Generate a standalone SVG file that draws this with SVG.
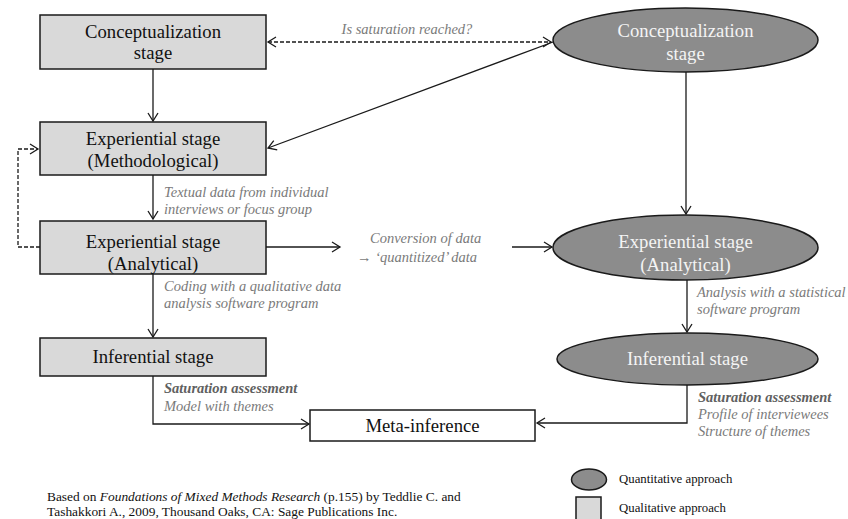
<svg xmlns="http://www.w3.org/2000/svg" width="848" height="519" viewBox="0 0 848 519" font-family="'Liberation Serif', 'Times New Roman', 'DejaVu Serif', serif">
<defs>
<marker id="ah" markerWidth="12" markerHeight="12" refX="9" refY="6" orient="auto-start-reverse" markerUnits="userSpaceOnUse">
<path d="M1,1 L9,6 L1,11" fill="none" stroke="#1a1a1a" stroke-width="1.3"/>
</marker>
</defs>
<style>
text{font-family:'Liberation Serif','Times New Roman','DejaVu Serif',serif}
.qual{fill:#d9d9d9;stroke:#1a1a1a;stroke-width:1.5}
.quan{fill:#8c8c8c;stroke:#1a1a1a;stroke-width:1.5}
.nt{font-size:18.7px;fill:#111;text-anchor:middle}
.et{font-size:18.7px;fill:#f4f4f4;text-anchor:middle}
.lb{font-size:14.5px;font-style:italic;fill:#7a7a7a}
.lbb{font-weight:bold;fill:#606060}
.ln{fill:none;stroke:#1a1a1a;stroke-width:1.3}
.dash{stroke-dasharray:4,2}
.ft{font-size:13.4px;fill:#111}
.lg{font-size:12.8px;fill:#111}
</style>
<g id="connectors">
<path class="ln dash" d="M268,42 L551,42" marker-start="url(#ah)" marker-end="url(#ah)"/>
<path class="ln" d="M153,69 L153,121" marker-end="url(#ah)"/>
<path class="ln" d="M553,42 L268,148" marker-end="url(#ah)"/>
<path class="ln dash" d="M40,247 L18,247 L18,149 L38,149" marker-end="url(#ah)"/>
<path class="ln" d="M153,175 L153,219" marker-end="url(#ah)"/>
<path class="ln" d="M266,247 L340,247" marker-end="url(#ah)"/>
<path class="ln" d="M512,247 L552,247" marker-end="url(#ah)"/>
<path class="ln" d="M686,72 L686,214" marker-end="url(#ah)"/>
<path class="ln" d="M153,274 L153,337" marker-end="url(#ah)"/>
<path class="ln" d="M687,280 L687,332" marker-end="url(#ah)"/>
<path class="ln" d="M153,376 L153,424 L309,424" marker-end="url(#ah)"/>
<path class="ln" d="M687,385 L687,423 L537,423" marker-end="url(#ah)"/>
</g>
<g id="labels">
<text class="lb" x="407" y="34" text-anchor="middle">Is saturation reached?</text>
<text class="lb" x="164" y="197">Textual data from individual</text>
<text class="lb" x="164" y="214">interviews or focus group</text>
<text class="lb" x="370" y="243">Conversion of data</text>
<text class="lb" x="357" y="262">→ ‘quantitized’ data</text>
<text class="lb" x="164" y="291">Coding with a qualitative data</text>
<text class="lb" x="164" y="308">analysis software program</text>
<text class="lb" x="697" y="297">Analysis with a statistical</text>
<text class="lb" x="697" y="314">software program</text>
<text class="lb lbb" x="164" y="393">Saturation assessment</text>
<text class="lb" x="164" y="411">Model with themes</text>
<text class="lb lbb" x="698" y="402">Saturation assessment</text>
<text class="lb" x="698" y="419">Profile of interviewees</text>
<text class="lb" x="698" y="436">Structure of themes</text>
</g>
<g id="qual-conceptualization">
<rect class="qual" x="40" y="15" width="226" height="54"/>
<text class="nt" x="153" y="38">Conceptualization</text>
<text class="nt" x="153" y="59">stage</text>
</g>
<g id="qual-methodological">
<rect class="qual" x="40" y="122" width="226" height="53"/>
<text class="nt" x="153" y="145">Experiential stage</text>
<text class="nt" x="153" y="167">(Methodological)</text>
</g>
<g id="qual-analytical">
<rect class="qual" x="40" y="221" width="226" height="53"/>
<text class="nt" x="153" y="248">Experiential stage</text>
<text class="nt" x="153" y="270">(Analytical)</text>
</g>
<g id="qual-inferential">
<rect class="qual" x="40" y="338" width="226" height="38"/>
<text class="nt" x="153" y="363">Inferential stage</text>
</g>
<g id="quan-conceptualization">
<ellipse class="quan" cx="685.5" cy="40" rx="132.5" ry="32"/>
<text class="et" x="685.5" y="37">Conceptualization</text>
<text class="et" x="685.5" y="60">stage</text>
</g>
<g id="quan-analytical">
<ellipse class="quan" cx="685.5" cy="247.5" rx="132.5" ry="32.5"/>
<text class="et" x="685.5" y="248">Experiential stage</text>
<text class="et" x="685.5" y="271">(Analytical)</text>
</g>
<g id="quan-inferential">
<ellipse class="quan" cx="687.5" cy="359" rx="130.5" ry="26"/>
<text class="et" x="687.5" y="365">Inferential stage</text>
</g>
<g id="meta-inference">
<rect x="310" y="410" width="225" height="31" fill="#fff" stroke="#1a1a1a" stroke-width="1.5"/>
<text class="nt" x="422.5" y="432">Meta-inference</text>
</g>
<g id="legend">
<ellipse class="quan" cx="589" cy="479.5" rx="17.5" ry="10.5"/>
<text class="lg" x="619" y="483">Quantitative approach</text>
<rect class="qual" x="576" y="497" width="25" height="30"/>
<text class="lg" x="619" y="512">Qualitative approach</text>
</g>
<g id="footer">
<text class="ft" x="47" y="501">Based on <tspan font-style="italic">Foundations of Mixed Methods Research</tspan> (p.155) by Teddlie C. and</text>
<text class="ft" x="47" y="516">Tashakkori A., 2009, Thousand Oaks, CA: Sage Publications Inc.</text>
</g>
</svg>
